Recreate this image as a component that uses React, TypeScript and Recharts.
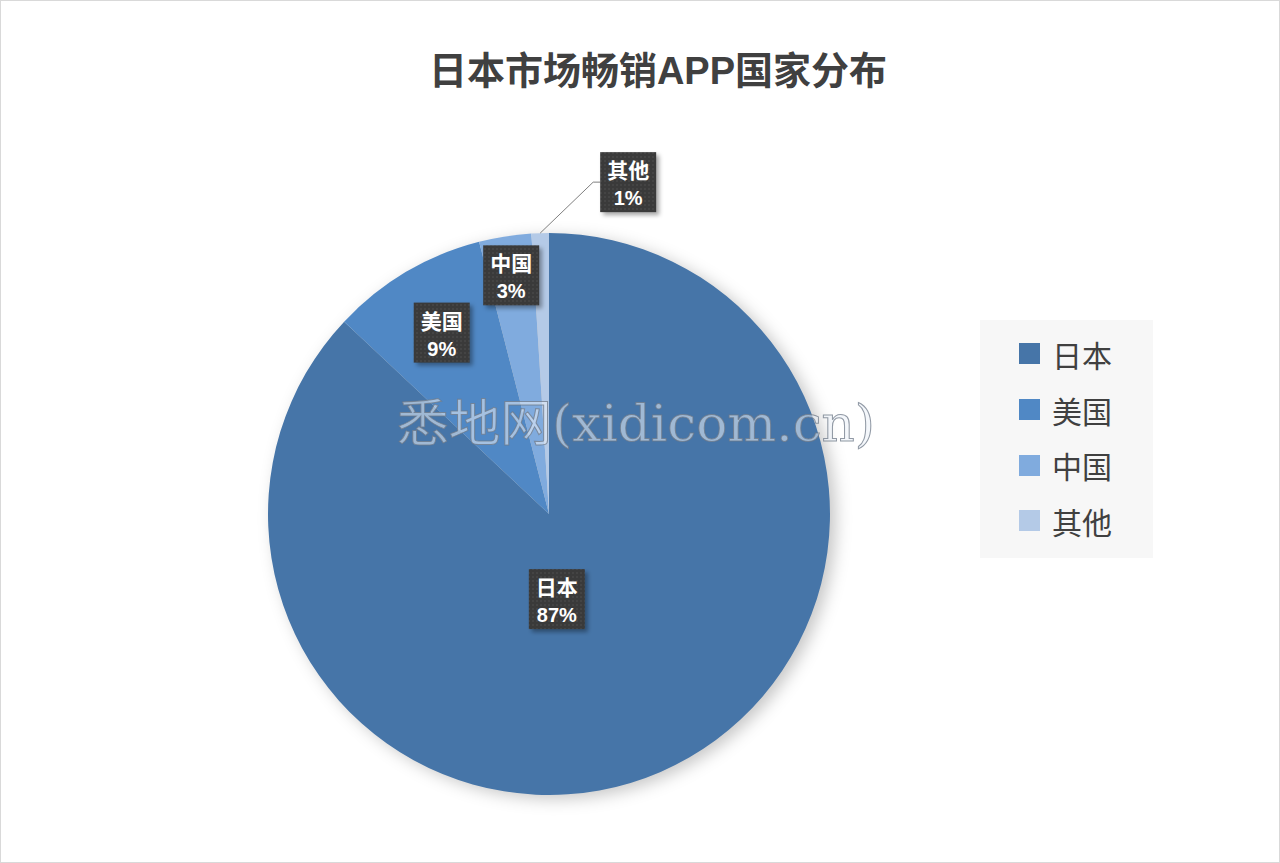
import React from "react";
import { PieChart, Pie, Cell, Legend } from "recharts";

const countries = ["日本", "美国", "中国", "其他"];
const shares = [87, 9, 3, 1];
const sliceColors = ["#4675a8", "#5088c5", "#80abde", "#b4cae7"];

const chartData = countries.map((name, i) => ({ name, value: shares[i] }));

// label placement per slice: fraction of radius along the mid angle, plus a nudge
const labelPlacement = [
  { r: 0.33, dx: -29, dy: 0, outside: false },
  { r: 0.75, dx: 0, dy: 0, outside: false },
  { r: 0.86, dx: 0, dy: 0, outside: false },
  { r: 1, dx: 0, dy: 0, outside: true },
];

const RADIAN = Math.PI / 180;
const BOX_W = 56;
const BOX_H = 60;

const renderLabel = (props: any) => {
  const { cx, cy, midAngle, outerRadius, percent, name, index } = props;
  const place = labelPlacement[index];
  const cos = Math.cos(-midAngle * RADIAN);
  const sin = Math.sin(-midAngle * RADIAN);
  let x: number;
  let y: number;
  let line = null;
  if (place.outside) {
    const sx = cx + outerRadius * cos;
    const sy = cy + outerRadius * sin;
    const ex = sx + 53;
    const ey = sy - 51;
    line = (
      <polyline
        points={`${sx},${sy} ${ex},${ey} ${ex + 7},${ey}`}
        fill="none"
        stroke="#7f7f7f"
        strokeWidth={1}
      />
    );
    x = ex + 7 + BOX_W / 2;
    y = ey;
  } else {
    x = cx + outerRadius * place.r * cos + place.dx;
    y = cy + outerRadius * place.r * sin + place.dy;
  }
  return (
    <g key={`lbl-${index}`}>
      {index === 0 && (
        <defs>
          <pattern id="dotgrid" width="4" height="4" patternUnits="userSpaceOnUse">
            <rect width="4" height="4" fill="#3a3a3a" />
            <circle cx="1" cy="1" r="0.7" fill="#555" />
          </pattern>
          <filter id="boxshadow" x="-20%" y="-20%" width="150%" height="150%">
            <feGaussianBlur stdDeviation="2" />
          </filter>
        </defs>
      )}
      {line}
      <rect
        x={x - BOX_W / 2 + 3}
        y={y - BOX_H / 2 + 3}
        width={BOX_W}
        height={BOX_H}
        fill="rgba(0,0,0,0.35)"
        filter="url(#boxshadow)"
      />
      <rect x={x - BOX_W / 2} y={y - BOX_H / 2} width={BOX_W} height={BOX_H} fill="url(#dotgrid)" />
      <text
        x={x}
        y={y - 4}
        textAnchor="middle"
        fill="#ffffff"
        fontWeight="bold"
        fontSize={21}
        fontFamily="'Liberation Sans', 'Noto Sans CJK SC', sans-serif"
      >
        {name}
      </text>
      <text
        x={x}
        y={y + 23}
        textAnchor="middle"
        fill="#ffffff"
        fontWeight="bold"
        fontSize={20}
        fontFamily="'Liberation Sans', 'Noto Sans CJK SC', sans-serif"
      >
        {`${Math.round(percent * 100)}%`}
      </text>
    </g>
  );
};

const renderLegend = (props: any) => {
  const items = [...(props.payload || [])].sort(
    (a: any, b: any) => countries.indexOf(a.value) - countries.indexOf(b.value)
  );
  return (
    <div
      style={{
        background: "#f7f7f7",
        width: 173,
        height: 238,
        boxSizing: "border-box",
        paddingTop: 6,
      }}
    >
      {items.map((entry: any) => {
        const i = countries.indexOf(entry.value);
        return (
          <div
            key={`leg-${entry.value}`}
            style={{ display: "flex", alignItems: "center", height: 55.7, paddingLeft: 39 }}
          >
            <span
              style={{
                display: "inline-block",
                width: 21,
                height: 21,
                background: sliceColors[i],
                marginRight: 12,
              }}
            />
            <span
              style={{
                fontSize: 30,
                color: "#404040",
                fontFamily: "'Noto Sans CJK SC', sans-serif",
                lineHeight: 1,
              }}
            >
              {entry.value}
            </span>
          </div>
        );
      })}
    </div>
  );
};

export default function App() {
  return (
    <div
      style={{
        position: "fixed",
        left: 0,
        top: 0,
        width: 1280,
        height: 863,
        background: "#ffffff",
        overflow: "hidden",
      }}
    >
      <style>{`.recharts-pie { filter: drop-shadow(6px 4px 8px rgba(0,0,0,0.22)); }`}</style>
      <div
        style={{
          position: "absolute",
          left: 0,
          top: 40,
          width: 1316,
          textAlign: "center",
          fontSize: 38,
          fontWeight: "bold",
          color: "#404040",
          fontFamily: "'Liberation Sans', 'Noto Sans CJK SC', sans-serif",
        }}
      >
        日本市场畅销APP国家分布
      </div>
      <div style={{ position: "absolute", left: 0, top: 0 }}>
        <PieChart width={1280} height={863} margin={{ top: 0, right: 0, bottom: 0, left: 0 }}>
          <Pie
            data={chartData}
            dataKey="value"
            nameKey="name"
            cx={549}
            cy={514}
            outerRadius={281}
            startAngle={90}
            endAngle={-270}
            stroke="none"
            label={renderLabel}
            labelLine={false}
            isAnimationActive={false}
          >
            {chartData.map((d, i) => (
              <Cell key={d.name} fill={sliceColors[i]} />
            ))}
          </Pie>
          <Legend
            layout="vertical"
            align="right"
            verticalAlign="middle"
            content={renderLegend}
            wrapperStyle={{ position: "absolute", left: 980, top: 320, width: 173, height: 238 }}
          />
        </PieChart>
      </div>
      <svg
        width={1280}
        height={863}
        style={{ position: "absolute", left: 0, top: 0, pointerEvents: "none" }}
      >
        <text
          x={397}
          y={441}
          textLength={478}
          lengthAdjust="spacingAndGlyphs"
          fontSize={50}
          fontFamily="'DejaVu Serif', 'Noto Sans CJK SC', serif"
          fill="rgba(235,240,248,0.55)"
          stroke="rgba(110,120,135,0.75)"
          strokeWidth={1}
        >
          悉地网(xidicom.cn)
        </text>
      </svg>
      <div
        style={{
          position: "absolute",
          left: 0,
          top: 0,
          width: 1280,
          height: 863,
          boxSizing: "border-box",
          border: "1px solid #d9d9d9",
          pointerEvents: "none",
        }}
      />
    </div>
  );
}
